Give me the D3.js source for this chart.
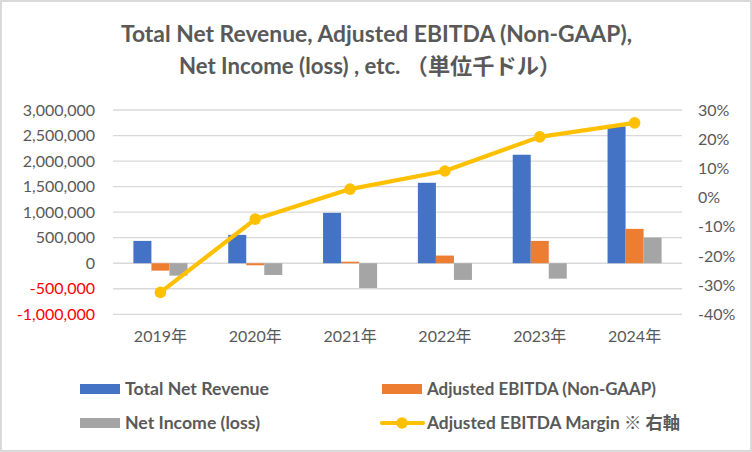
<!DOCTYPE html>
<html><head><meta charset="utf-8">
<script src="https://cdn.jsdelivr.net/npm/d3@7"></script>
<style>body{margin:0;background:#fff}svg{display:block}text{font-family:Lato,"Noto Sans CJK JP",sans-serif}</style>
</head><body><svg id="c" width="752" height="452"></svg>
<script>
const years = ["2019年","2020年","2021年","2022年","2023年","2024年"];
const revenue = [437000, 555000, 986000, 1575000, 2124000, 2679000];
const ebitda = [-145000, -40000, 30000, 150000, 437000, 673000];
const netIncome = [-243000, -230000, -485000, -327000, -302000, 502000];
const margin = [-0.325, -0.074, 0.029, 0.091, 0.208, 0.256];
const leftTicks = [-1000000,-500000,0,500000,1000000,1500000,2000000,2500000,3000000];
const rightTicks = [-0.4,-0.3,-0.2,-0.1,0,0.1,0.2,0.3];
const seriesNames = ["Total Net Revenue","Adjusted EBITDA (Non-GAAP)","Net Income (loss)","Adjusted EBITDA Margin ※ 右軸"];
const titleLines = ["Total Net Revenue, Adjusted EBITDA (Non-GAAP),","Net Income (loss) , etc. （単位千ドル）"];
const colors = ["#4472C4","#ED7D31","#A5A5A5","#FFC000"];

const svg = d3.select("#c");
svg.append("rect").attr("x",1).attr("y",1).attr("width",750).attr("height",450).attr("fill","#fff").attr("stroke","#D9D9D9").attr("stroke-width",2);

const L=113, R=682, T=110, B=314.3;
const y = d3.scaleLinear().domain([-1000000,3000000]).range([B,T]);
const y2 = d3.scaleLinear().domain([-0.4,0.3]).range([B,T]);
const x0 = d3.scaleBand().domain(years).range([L,R]).paddingInner(0.43).paddingOuter(0.215);
const x1 = d3.scaleBand().domain([0,1,2]).range([0,x0.bandwidth()]);
const xc = d => x0(d)+x0.bandwidth()/2;

// title
const tpos = [{x:121,y:42,w:511},{x:179,y:74,w:382}];
titleLines.forEach((t,i)=>{
  svg.append("text").attr("x",tpos[i].x).attr("y",tpos[i].y).attr("fill","#595959").attr("font-weight","bold").attr("font-size",22)
    .attr("textLength",tpos[i].w).attr("lengthAdjust","spacingAndGlyphs").text(t);
});

// gridlines
svg.append("g").selectAll("line").data(leftTicks).join("line")
  .attr("x1",L).attr("x2",R).attr("y1",d=>y(d)).attr("y2",d=>y(d))
  .attr("stroke","#D9D9D9").attr("stroke-width",1.3);

// left axis
const fmt = d3.format(",");
const la = svg.append("g").attr("transform",`translate(${L-18},0)`).call(d3.axisLeft(y).tickValues(leftTicks).tickSize(0).tickPadding(0).tickFormat(d=>fmt(d).replace("−","-")));
la.select(".domain").remove();
la.selectAll("text").attr("font-size",16).attr("font-family","Lato").attr("fill",d=>d<0?"#FF0000":"#595959");

// right axis
const ra = svg.append("g").attr("transform",`translate(${R+16},0)`).call(d3.axisRight(y2).tickValues(rightTicks).tickSize(0).tickPadding(0).tickFormat(d=>d3.format(".0%")(d).replace("−","-")));
ra.select(".domain").remove();
ra.selectAll("text").attr("font-size",16).attr("font-family","Lato").attr("fill","#595959");

// x axis labels
const xa = svg.append("g").attr("transform",`translate(0,${B+16})`).call(d3.axisBottom(x0).tickSize(0).tickPadding(0));
xa.select(".domain").remove();
xa.selectAll("text").attr("font-size",16).attr("font-family","Lato,'Noto Sans CJK JP'").attr("fill","#595959");

// bars
const series = [revenue, ebitda, netIncome];
series.forEach((vals,si)=>{
  svg.append("g").selectAll("rect").data(vals).join("rect")
    .attr("x",(d,i)=>x0(years[i])+x1(si))
    .attr("width",x1.bandwidth())
    .attr("y",d=>y(Math.max(0,d)))
    .attr("height",d=>Math.abs(y(d)-y(0)))
    .attr("fill",colors[si]);
});

// line
svg.append("path").datum(margin)
  .attr("d",d3.line().x((d,i)=>xc(years[i])).y(d=>y2(d)))
  .attr("fill","none").attr("stroke",colors[3]).attr("stroke-width",4.2).attr("stroke-linejoin","round");
svg.append("g").selectAll("circle").data(margin).join("circle")
  .attr("cx",(d,i)=>xc(years[i])).attr("cy",d=>y2(d)).attr("r",5.8).attr("fill",colors[3]);

// legend
const leg = [{x:80,y:389,w:144},{x:382,y:389,w:229},{x:80,y:423,w:135},{x:382,y:423,w:253}];
leg.forEach((p,i)=>{
  const g = svg.append("g");
  if(i<3){
    g.append("rect").attr("x",p.x).attr("y",p.y-5).attr("width",40).attr("height",10).attr("fill",colors[i]);
  } else {
    g.append("line").attr("x1",p.x).attr("x2",p.x+41).attr("y1",p.y).attr("y2",p.y).attr("stroke",colors[3]).attr("stroke-width",4.2).attr("stroke-linecap","round");
    g.append("circle").attr("cx",p.x+20).attr("cy",p.y).attr("r",5.8).attr("fill",colors[3]);
  }
  g.append("text").attr("x",p.x+45).attr("y",p.y).attr("dy","0.36em").attr("font-size",16.5).attr("font-weight","bold").attr("fill","#595959")
    .attr("textLength",p.w).attr("lengthAdjust","spacingAndGlyphs").text(seriesNames[i]);
});
</script></body></html>
